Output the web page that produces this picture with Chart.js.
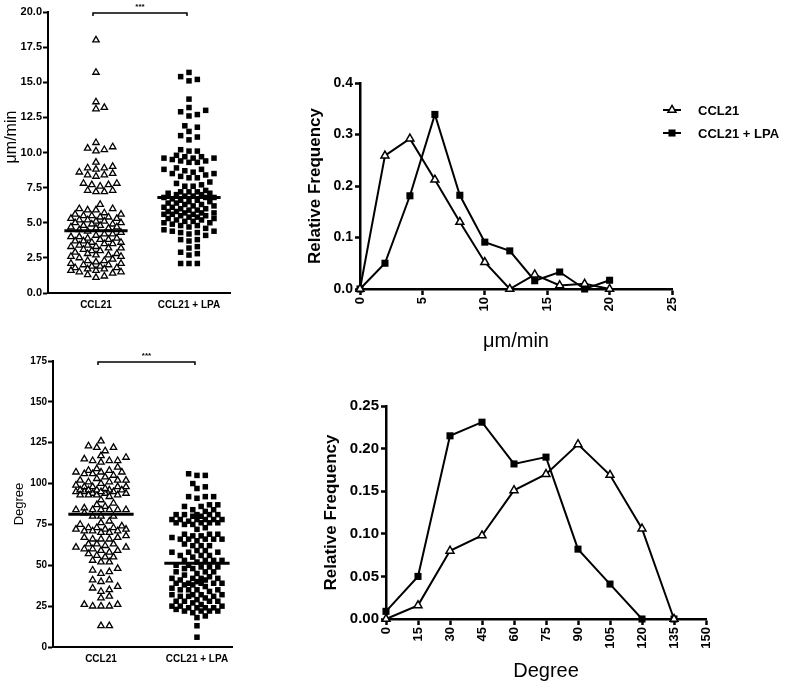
<!DOCTYPE html>
<html><head><meta charset="utf-8">
<script src="https://cdn.jsdelivr.net/npm/chart.js@4.4.1/dist/chart.umd.min.js"></script>
<style>
body{margin:0;background:#fff;}
#wrap{position:relative;width:800px;height:691px;overflow:hidden;background:#fff}
canvas{position:absolute}
</style></head><body>
<div id="wrap">
<canvas id="c1" width="240" height="322" style="left:0px;top:0px"></canvas>
<canvas id="c2" width="520" height="300" style="left:280px;top:60px"></canvas>
<canvas id="c3" width="240" height="351" style="left:0px;top:340px"></canvas>
<canvas id="c4" width="500" height="311" style="left:300px;top:380px"></canvas>
</div>
<script>
// ---------------- DATA ----------------
const groups = ['CCL21', 'CCL21 + LPA'];
const seriesNames = ['CCL21', 'CCL21 + LPA'];
const significance = '***';

const speedCCL21 = [18.0, 15.7, 13.6, 13.2, 13.1, 10.7, 10.4, 10.3, 10.2, 10.1, 9.3, 9.0, 8.9, 8.9, 8.8, 8.6, 8.5, 8.4, 8.4, 8.3,
  7.8, 7.8, 7.7, 7.7, 7.6, 7.3, 7.3, 7.2, 7.2, 6.3, 6.0, 6.0, 5.9, 5.9,
  5.7, 5.6, 5.6, 5.5, 5.5, 5.4, 5.4, 5.3, 5.3, 5.2, 5.2, 5.1, 5.1, 5.0, 5.0, 4.9, 4.9, 4.8, 4.8, 4.7, 4.7, 4.6, 4.6, 4.5,
  4.4, 4.3, 4.2, 4.2, 4.1, 4.0, 4.0, 3.9, 3.9, 3.8, 3.8, 3.7, 3.7, 3.6, 3.6, 3.5, 3.5, 3.4, 3.4, 3.3, 3.3, 3.2, 3.2, 3.1,
  3.0, 3.0, 2.9, 2.8, 2.8, 2.7, 2.7, 2.6, 2.6, 2.5, 2.4, 2.3, 2.3, 2.2, 2.1, 2.1, 2.0, 2.0, 1.9, 1.9, 1.8, 1.8, 1.7, 1.7,
  1.6, 1.6, 1.5, 1.5, 1.4, 1.3, 1.2, 1.1];
const speedLPA = [15.7, 15.4, 15.2, 15.1, 13.8, 13.2, 13.0, 12.9, 12.7, 12.6, 11.9, 11.8, 11.5, 11.2, 11.1, 10.9, 10.2, 10.1, 10.1,
  9.8, 9.7, 9.7, 9.6, 9.6, 9.6, 9.5, 9.4, 9.4, 9.3, 9.3, 8.9, 8.8, 8.8, 8.7, 8.6, 8.5, 8.5, 8.4, 8.3, 8.2, 8.2, 7.9, 7.8,
  7.7, 7.6, 7.6, 7.3, 7.2, 7.2, 7.2, 7.1, 7.1, 7.0, 7.0, 6.9, 6.9, 6.8, 6.8, 6.8,
  6.7, 6.6, 6.6, 6.5, 6.5, 6.4, 6.4, 6.3, 6.3, 6.2, 6.2, 6.1, 6.1, 6.0, 6.0, 5.9, 5.9, 5.8, 5.8, 5.7, 5.7, 5.7, 5.6, 5.6,
  5.6, 5.5, 5.5, 5.4, 5.4, 5.3, 5.3, 5.2, 5.2, 5.1, 5.1, 5.0, 5.0, 4.9, 4.8, 4.8, 4.7, 4.6, 4.5, 4.4, 4.4, 4.3, 4.3, 4.2,
  4.1, 3.8, 3.8, 3.7, 3.3, 3.2, 2.9, 2.8, 2.7, 2.1, 2.1, 2.1];
const speedMedians = [4.43, 6.79];
const speedTicks = [0, 2.5, 5, 7.5, 10, 12.5, 15, 17.5, 20];

const angleCCL21 = [126, 122, 123, 120, 122, 116, 117, 114, 114, 113, 114, 115, 108, 107, 108, 109, 107, 110, 107, 105, 106, 106, 104,
  102, 101, 100, 101, 102, 102, 103, 98, 98, 99, 98, 98, 95, 94, 94, 95, 94, 93, 95, 96, 96, 95, 96, 96, 96, 97, 93, 92, 93,
  93, 90, 87, 88, 86, 84, 84, 85, 84, 84, 84, 84, 82,
  80, 80, 80, 76, 75, 77, 73, 72, 73, 74, 73, 72, 72, 71, 70, 71, 70, 71, 67, 66, 66, 67, 66, 68, 63, 61, 61, 63, 63, 62,
  60, 59, 59, 60, 56, 55, 57, 58, 55, 52, 53, 52, 48, 46, 47, 45, 41, 41, 40, 37, 36, 35, 34, 31, 30, 26, 25, 25, 25, 26, 13, 13];
const angleLPA = [106, 105, 105, 98, 97, 100, 92, 92, 91, 92, 87, 86, 87, 86, 84, 83, 84, 81, 81, 80, 80, 81, 81, 81, 78, 78, 78,
  77, 78, 78, 78, 76, 75, 76, 76, 75, 76, 73, 72, 69, 68, 68, 69, 69, 66, 66, 66, 67, 66, 65, 66, 62, 62, 62, 63, 58, 59, 58,
  58, 59, 56, 56, 56, 55, 53, 53, 53, 53, 52,
  50, 50, 49, 49, 49, 48, 48, 46, 45, 46, 46, 44, 42, 42, 42, 43, 42, 41, 41, 40, 39, 39, 38, 39, 38, 39, 39, 37, 36, 35, 35,
  35, 34, 35, 32, 31, 32, 31, 32, 32, 31, 30, 28, 28, 29, 28, 28, 27, 26, 25, 24, 24, 24, 25, 24, 25, 22, 22, 22, 23, 22, 21,
  19, 18, 13, 6];
const angleMedians = [81.3, 51.3];
const angleTicks = [0, 25, 50, 75, 100, 125, 150, 175];

const speedBins = [0, 2, 4, 6, 8, 10, 12, 14, 16, 18, 20];
const speedFreqCCL21 = [0, 0.259, 0.292, 0.212, 0.130, 0.052, 0, 0.028, 0.007, 0.010, 0];
const speedFreqLPA = [0, 0.050, 0.181, 0.339, 0.182, 0.091, 0.074, 0.016, 0.033, 0, 0.017];
const speedBinTicks = [0, 5, 10, 15, 20, 25];

const angleBins = [0, 15, 30, 45, 60, 75, 90, 105, 120, 135];
const angleFreqCCL21 = [0, 0.016, 0.080, 0.098, 0.151, 0.170, 0.205, 0.169, 0.106, 0];
const angleFreqLPA = [0.009, 0.050, 0.215, 0.231, 0.182, 0.190, 0.082, 0.041, 0, 0];
const angleBinTicks = [0, 15, 30, 45, 60, 75, 90, 105, 120, 135, 150];

// ---------------- HELPERS ----------------
Chart.defaults.font.family = '"Liberation Sans", Arial, Helvetica, sans-serif';
Chart.defaults.color = '#000';
Chart.defaults.animation = false;
Chart.defaults.plugins.legend.display = false;
Chart.defaults.plugins.tooltip.enabled = false;

// deterministic beeswarm layout (horizontal offsets only; values unchanged)
function swarm(values, center, pxPerX, pxPerY, step, minDist, maxJ) {
  const idx = values.map((v, i) => i).sort((a, b) => values[a] - values[b]);
  const placed = [];
  const out = new Array(values.length);
  for (const i of idx) {
    const py = values[i] * pxPerY;
    let best = 0, bestD = -1;
    for (let k = 0; k <= 2 * maxJ; k++) {
      const j = k === 0 ? 0 : (k % 2 ? (k + 1) / 2 : -k / 2);
      const px = j * step;
      let md = Infinity;
      for (const p of placed) {
        const dx = p.x - px, dy = p.y - py;
        const d = Math.sqrt(dx * dx + dy * dy);
        if (d < md) md = d;
      }
      if (md >= minDist) { best = px; break; }
      if (md > bestD + 0.01) { bestD = md; best = px; }
    }
    placed.push({x: best, y: py});
    out[i] = {x: center + best / pxPerX, y: values[i]};
  }
  return out;
}

const bracketPlugin = {
  id: 'bracket',
  afterDraw(chart, args, o) {
    const {ctx, scales: {x, y}} = chart;
    const x1 = x.getPixelForValue(o.from) - 3, x2 = x.getPixelForValue(o.to) - 2;
    const yy = y.getPixelForValue(o.at) + 1;
    ctx.save();
    ctx.strokeStyle = '#000'; ctx.lineWidth = 1.5;
    ctx.beginPath();
    ctx.moveTo(x1, yy + 3); ctx.lineTo(x1, yy); ctx.lineTo(x2, yy); ctx.lineTo(x2, yy + 3);
    ctx.stroke();
    ctx.fillStyle = '#000';
    ctx.font = 'bold 8px "Liberation Sans", Arial, sans-serif';
    ctx.textAlign = 'center'; ctx.textBaseline = 'bottom';
    ctx.fillText(o.text, (x1 + x2) / 2, yy - 2);
    if (o.title) {
      ctx.save();
      ctx.translate(o.title.x, o.title.y);
      ctx.rotate(-Math.PI / 2);
      ctx.font = o.title.size + 'px "Liberation Sans", Arial, sans-serif';
      ctx.textAlign = 'center'; ctx.textBaseline = 'middle';
      ctx.fillText(o.title.text, 0, 0);
      ctx.restore();
    }
    ctx.restore();
  }
};

const miniLegend = {
  id: 'miniLegend',
  afterDraw(chart, args, o) {
    const ctx = chart.ctx;
    chart.data.datasets.forEach((ds, i) => {
      const y = o.y + i * o.gap;
      ctx.save();
      ctx.strokeStyle = '#000'; ctx.lineWidth = 2;
      ctx.beginPath(); ctx.moveTo(o.x, y); ctx.lineTo(o.x + 18, y); ctx.stroke();
      ctx.fillStyle = ds.pointBackgroundColor; ctx.strokeStyle = '#000'; ctx.lineWidth = ds.pointBorderWidth;
      Chart.helpers.drawPoint(ctx, {pointStyle: ds.pointStyle, radius: ds.pointRadius, borderWidth: ds.pointBorderWidth, rotation: 0}, o.x + 9, y);
      ctx.fillStyle = '#000';
      ctx.font = 'bold 13px "Liberation Sans", Arial, sans-serif';
      ctx.textAlign = 'left'; ctx.textBaseline = 'middle';
      ctx.fillText(ds.label, o.x + 35, y + 1);
      ctx.restore();
    });
  }
};

function axisCommon(extra) {
  return Object.assign({
    grid: {display: true, drawOnChartArea: false, drawTicks: true, tickLength: 5, tickWidth: 2, tickColor: '#000', color: '#000'},
    border: {display: true, color: '#000', width: 2}
  }, extra);
}

function medianSet(center, value) {
  return {type: 'scatter', showLine: true, data: [{x: center - 0.34, y: value}, {x: center + 0.34, y: value}],
    borderColor: '#000', borderWidth: 3, pointRadius: 0, order: 0, clip: false};
}

function scatterChart(id, cfg) {
  const sets = [
    {label: groups[0], data: swarm(cfg.a, 1, cfg.pxX, cfg.pxY, 4.17, 6.2, 6), pointStyle: 'triangle', pointRadius: 3.7,
      pointBackgroundColor: '#fff', pointBorderColor: '#000', pointBorderWidth: 1.3, order: 1, clip: false},
    {label: groups[1], data: swarm(cfg.b, 2, cfg.pxX, cfg.pxY, 4.17, 6.2, 6), pointStyle: 'rect', pointRadius: 3.9,
      pointBackgroundColor: '#000', pointBorderColor: '#000', pointBorderWidth: 0, order: 1, clip: false},
    medianSet(1, cfg.medians[0]), medianSet(2, cfg.medians[1])
  ];
  return new Chart(document.getElementById(id), {
    type: 'scatter',
    data: {datasets: sets},
    options: {
      responsive: false,
      layout: {padding: cfg.padding},
      plugins: {bracket: {from: 1, to: 2, at: cfg.yTicks[cfg.yTicks.length - 1], text: significance, title: cfg.customTitle || null}},
      scales: {
        x: axisCommon({
          type: 'linear', min: cfg.xmin, max: cfg.xmax,
          afterBuildTicks: s => { s.ticks = groups.map((g, i) => ({value: i + 1})); },
          ticks: {callback: v => groups[Math.round(v) - 1], font: {size: 10, weight: 'bold'}, padding: cfg.xPad, maxRotation: 0, autoSkip: false},
          grid: {display: true, drawOnChartArea: false, drawTicks: false, color: '#000'},
          afterFit: s => { s.height = cfg.xH; }
        }),
        y: axisCommon({
          min: cfg.yTicks[0], max: cfg.yTicks[cfg.yTicks.length - 1],
          afterBuildTicks: s => { s.ticks = cfg.yTicks.map(v => ({value: v})); },
          ticks: {callback: cfg.fmt, font: {size: cfg.tickSize, weight: 'bold'}, padding: 1},
          title: {display: !cfg.customTitle, text: cfg.title, font: {size: cfg.titleSize}, padding: {top: cfg.titlePad, bottom: 0}},
          afterFit: s => { s.width = cfg.yW; }
        })
      }
    },
    plugins: [bracketPlugin]
  });
}

function lineSet(label, xs, ys, style) {
  return {label, data: xs.map((x, i) => ({x, y: ys[i]})), showLine: true, borderColor: '#000', borderWidth: 2,
    pointStyle: style, pointRadius: style === 'triangle' ? 4.6 : 5,
    pointBackgroundColor: style === 'triangle' ? '#fff' : '#000', pointBorderColor: '#000', pointBorderWidth: style === 'triangle' ? 1.5 : 0, clip: false};
}

function freqChart(id, cfg) {
  return new Chart(document.getElementById(id), {
    type: 'scatter',
    data: {datasets: [lineSet(seriesNames[0], cfg.bins, cfg.a, 'triangle'), lineSet(seriesNames[1], cfg.bins, cfg.b, 'rect')]},
    options: {
      responsive: false,
      layout: {padding: cfg.padding},
      plugins: {miniLegend: cfg.legend || false},
      scales: {
        x: axisCommon({
          type: 'linear', min: cfg.xTicks[0], max: cfg.xTicks[cfg.xTicks.length - 1],
          afterBuildTicks: s => { s.ticks = cfg.xTicks.map(v => ({value: v})); },
          ticks: {font: {size: 13, weight: 'bold'}, minRotation: 90, maxRotation: 90, padding: 2, autoSkip: false},
          grid: {display: true, drawOnChartArea: false, tickLength: 6, tickWidth: 2.5, tickColor: '#000', color: '#000'},
          border: {display: true, color: '#000', width: 2.5},
          title: {display: true, text: cfg.xTitle, font: {size: 20}, padding: {top: 0, bottom: cfg.xTitlePad}},
          afterFit: s => { s.height = cfg.xH; }
        }),
        y: axisCommon({
          min: cfg.yTicks[0], max: cfg.yTicks[cfg.yTicks.length - 1],
          afterBuildTicks: s => { s.ticks = cfg.yTicks.map(v => ({value: v})); },
          ticks: {callback: cfg.fmt, font: {size: cfg.yTickSize, weight: 'bold'}, padding: 2},
          grid: {display: true, drawOnChartArea: false, tickLength: 5, tickWidth: 2.5, tickColor: '#000', color: '#000'},
          border: {display: true, color: '#000', width: 2.5},
          title: {display: true, text: 'Relative Frequency', font: {size: 17, weight: 'bold'}, padding: {top: cfg.yTitlePad, bottom: 0}},
          afterFit: s => { s.width = cfg.yW; }
        })
      }
    },
    plugins: [miniLegend]
  });
}

// ---------------- CHARTS ----------------
scatterChart('c1', {a: speedCCL21, b: speedLPA, medians: speedMedians, yTicks: speedTicks, fmt: v => v.toFixed(1),
  pxX: 93, pxY: 14.05, xmin: 0.484, xmax: 2.441, padding: {top: 12, right: 10, left: 0, bottom: 0},
  xH: 29, yW: 48, xPad: 6, tickSize: 11, title: 'μm/min', titleSize: 16, titlePad: 3,
  customTitle: {text: 'μm/min', x: 12, y: 137, size: 16}});

scatterChart('c3', {a: angleCCL21, b: angleLPA, medians: angleMedians, yTicks: angleTicks, fmt: v => String(v),
  pxX: 96, pxY: 1.634, xmin: 0.5, xmax: 2.365, padding: {top: 21, right: 8, left: 0, bottom: 0},
  xH: 44, yW: 53, xPad: 6, tickSize: 10, title: 'Degree', titleSize: 13, titlePad: 12});

freqChart('c2', {bins: speedBins, a: speedFreqCCL21, b: speedFreqLPA, xTicks: speedBinTicks, yTicks: [0, 0.1, 0.2, 0.3, 0.4],
  fmt: v => v.toFixed(1), padding: {top: 23, right: 128, left: 0, bottom: 0}, xH: 71, yW: 80, xTitle: 'μm/min', xTitlePad: 7,
  yTitlePad: 25, yTickSize: 14, legend: {x: 383, y: 50, gap: 23}});

freqChart('c4', {bins: angleBins, a: angleFreqCCL21, b: angleFreqLPA, xTicks: angleBinTicks, yTicks: [0, 0.05, 0.10, 0.15, 0.20, 0.25],
  fmt: v => v.toFixed(2), padding: {top: 26, right: 94, left: 0, bottom: 0}, xH: 72, yW: 86, xTitle: 'Degree', xTitlePad: 8,
  yTitlePad: 21, yTickSize: 15});
</script>
</body></html>
